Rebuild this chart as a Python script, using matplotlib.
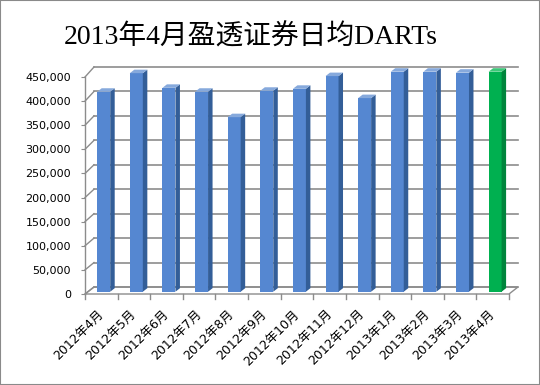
import matplotlib
matplotlib.use("Agg")
import matplotlib.pyplot as plt
from matplotlib.patches import Rectangle

# monthly average DARTs
months = ['2012年4月', '2012年5月', '2012年6月', '2012年7月', '2012年8月',
          '2012年9月', '2012年10月', '2012年11月', '2012年12月',
          '2013年1月', '2013年2月', '2013年3月', '2013年4月']
darts = [409000, 447000, 417000, 409000, 357000, 411000, 415000,
         441000, 396000, 450000, 450000, 448000, 450000]
yticks = list(range(0, 450001, 50000))
title = '2013年4月盈透证券日均DARTs'

W, H = 540, 385
fig = plt.figure(figsize=(W / 100, H / 100), dpi=100)
fig.patch.set_facecolor('white')

# front plot box in pixels
left, right, bottom, plot_h = 85, 509, 294, 220
ax = fig.add_axes([left / W, (H - bottom) / H, (right - left) / W, plot_h / H])
n = len(months)
ax.set_xlim(0, n)
ax.set_ylim(0, 450000)
for s in ax.spines.values():
    s.set_visible(False)

# pixel -> data helpers
U = n / (right - left)
S = 450000 / plot_h
grid_c = '#8c8c8c'

# oblique depth of the wall / floor
wall_dx, wall_dy = 9 * U, 7 * S
front_scale = 217 / 220   # front axis is slightly shorter than back wall

# floor
ax.fill([0, n, n + wall_dx, wall_dx], [0, 0, wall_dy, wall_dy],
        facecolor='white', edgecolor=grid_c, lw=1, zorder=1, clip_on=False)
for i in range(n + 1):
    ax.plot([i, i], [0, -5 * S], color=grid_c, lw=1, clip_on=False, zorder=1)

# back wall gridlines + side diagonals
for v in yticks:
    ax.plot([wall_dx, n + wall_dx], [wall_dy + v, wall_dy + v],
            color=grid_c, lw=1.2, clip_on=False, zorder=1)
    ax.plot([0, wall_dx], [v * front_scale, wall_dy + v],
            color=grid_c, lw=1, clip_on=False, zorder=1)
ax.plot([0, 0], [0, 450000 * front_scale], color=grid_c, lw=1, clip_on=False, zorder=1)

# 3d-looking columns
bar_w = 13 * U
off_x, off_y = 2.4 * U, 2.3 * S
dep_x, dep_y = 4.5 * U, 3.5 * S
for i, v in enumerate(darts):
    if i == n - 1:
        front, side, top = '#00b050', '#00853c', '#3cc878'
    else:
        front, side, top = '#5587d1', '#335e98', '#86a9dc'
    xl = i + 0.5 - bar_w / 2 + off_x
    xr = xl + bar_w
    b = off_y
    t = off_y + v
    ax.bar(xl, v, width=bar_w, bottom=b, align='edge', color=front,
           lw=0, zorder=3, clip_on=False)
    ax.fill([xr, xr, xr + dep_x, xr + dep_x], [b, t, t + dep_y, b + dep_y],
            color=side, lw=0, zorder=3, clip_on=False)
    ax.fill([xl, xr, xr + dep_x, xl + dep_x], [t, t, t + dep_y, t + dep_y],
            color=top, lw=0, zorder=3, clip_on=False)

# axis labels
ax.set_yticks([v * front_scale for v in yticks], [f'{v:,}' for v in yticks])
ax.tick_params(axis='y', length=3, color=grid_c, pad=7, labelsize=8)
ax.set_xticks([i + 0.5 for i in range(n)])
ax.set_xticklabels(months, rotation=45, ha='right', va='center',
                   rotation_mode='anchor', fontsize=9,
                   family=['DejaVu Sans', 'Noto Sans CJK SC'])
ax.tick_params(axis='x', length=0, pad=13)

fig.text(251 / W, 1 - 37 / H, title, ha='center', va='center', fontsize=20,
         family=['Liberation Serif', 'Noto Sans CJK SC'])

fig.patches.append(Rectangle((0, 0), 1, 1, transform=fig.transFigure,
                             fill=False, edgecolor='#8a8a8a', lw=1.5))

fig.savefig('out.png', dpi=100)
